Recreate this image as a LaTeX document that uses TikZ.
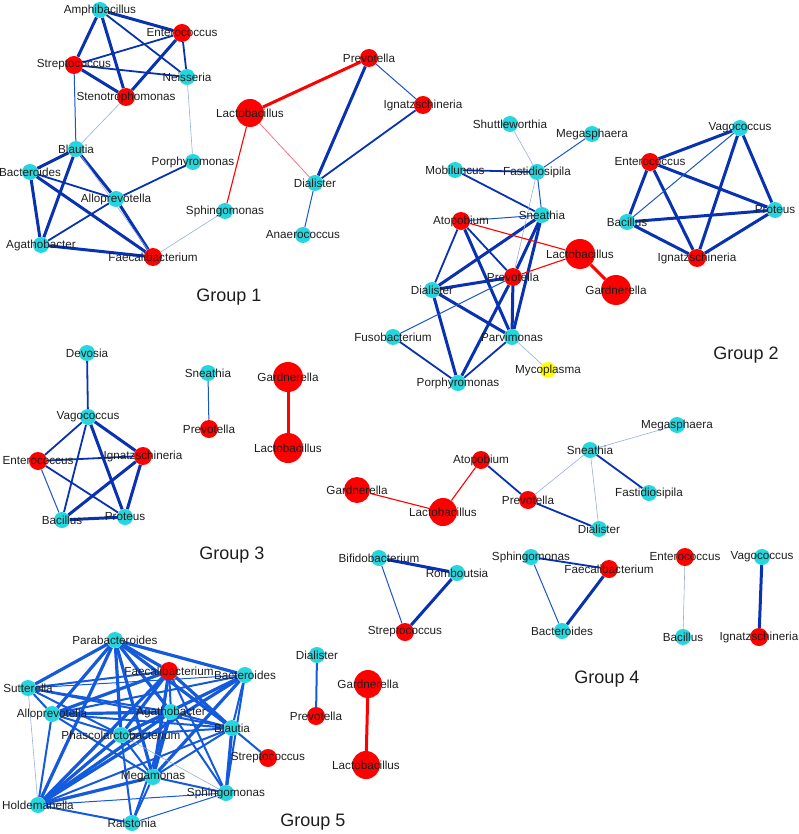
\documentclass[tikz,border=0pt]{standalone}
\usepackage{fontspec}
\setmainfont{Liberation Sans}
\usepackage{tikz}
\usetikzlibrary{arrows}
\definecolor{nodecyan}{RGB}{38,214,222}
\definecolor{nodered}{RGB}{255,0,0}
\definecolor{nodeyel}{RGB}{255,255,0}
\definecolor{edgedark}{RGB}{8,50,178}
\definecolor{edgemid}{RGB}{25,85,200}
\definecolor{edgepale}{RGB}{150,175,220}
\definecolor{edgebright}{RGB}{20,90,220}
\definecolor{edgepink}{RGB}{255,110,140}
\definecolor{txt}{RGB}{30,30,30}
\pgfdeclarelayer{bg}
\pgfsetlayers{bg,main}

\begin{document}
\begin{tikzpicture}[x=1pt, y=-1pt,
    lbl/.style = {text=txt, font=\fontsize{11.7}{14}\selectfont, inner sep=0pt},
    cy/.style = {circle, fill=nodecyan, minimum size=16pt, inner sep=0pt, label={[lbl]center:#1}},
    rd/.style = {circle, fill=nodered, minimum size=18pt, inner sep=0pt, label={[lbl]center:#1}},
    big/.style = {circle, fill=nodered, minimum size=30pt, inner sep=0pt, label={[lbl]center:#1}},
    yl/.style = {circle, fill=nodeyel, minimum size=16pt, inner sep=0pt, label={[lbl]center:#1}},
    grp/.style = {text=txt, font=\fontsize{18}{21}\selectfont},
    ePale/.style = {draw=edgepale, line width=0.6pt},
    eThin/.style = {draw=edgemid, line width=1pt},
    eMid/.style = {draw=edgedark, line width=1.8pt},
    eThick/.style = {draw=edgedark, line width=3pt},
    fThin/.style = {draw=edgebright, line width=1pt},
    fMid/.style = {draw=edgebright, line width=2pt},
    fThick/.style = {draw=edgebright, line width=3.2pt},
    rThin/.style = {draw=edgepink, line width=0.8pt},
    rMid/.style = {draw=nodered, line width=1.5pt},
    rThick/.style = {draw=nodered, line width=3pt}]
  \useasboundingbox (0,0) rectangle (798,834);

  % group 1
  \node[cy=Amphibacillus] (a1amph) at (100,10) {};
  \node[rd=Enterococcus] (a1ente) at (182,33) {};
  \node[rd=Streptococcus] (a1stre) at (74,65) {};
  \node[cy=Neisseria] (a1neis) at (187,77) {};
  \node[rd=Stenotrophomonas] (a1sten) at (126,97) {};
  \node[cy=Blautia] (a1blau) at (76,149) {};
  \node[cy=Porphyromonas] (a1porp) at (193,162) {};
  \node[cy=Bacteroides] (a1bact) at (30,172) {};
  \node[cy=Alloprevotella] (a1allo) at (116,199) {};
  \node[cy=Sphingomonas] (a1sphi) at (225,211) {};
  \node[cy=Agathobacter] (a1agat) at (41,245) {};
  \node[rd=Faecalibacterium] (a1faec) at (153,257) {};
  \node[big=Lactobacillus, minimum size=28pt] (a1lact) at (250,113) {};
  \node[rd=Prevotella] (a1prev) at (369,58) {};
  \node[rd=Ignatzschineria] (a1igna) at (423,105) {};
  \node[cy=Dialister] (a1dial) at (315,183) {};
  \node[cy=Anaerococcus] (a1anae) at (303,235) {};
  \node[grp] (g1) at (229,297) {Group 1};

  % group 2
  \node[cy=Shuttleworthia] (b2shut) at (510,124) {};
  \node[cy=Megasphaera] (b2mega) at (592,134) {};
  \node[cy=Mobiluncus] (b2mobi) at (455,170) {};
  \node[cy=Fastidiosipila] (b2fast) at (537,172) {};
  \node[cy=Sneathia] (b2snea) at (542,215) {};
  \node[rd=Atopobium] (b2atop) at (461,221) {};
  \node[big=Lactobacillus] (b2lact) at (580,254) {};
  \node[big=Gardnerella] (b2gard) at (616,290) {};
  \node[rd=Prevotella] (b2prev) at (513,277) {};
  \node[cy=Dialister] (b2dial) at (432,290) {};
  \node[cy=Fusobacterium] (b2fuso) at (393,337) {};
  \node[cy=Parvimonas] (b2parv) at (512,337) {};
  \node[yl=Mycoplasma] (b2myco) at (548,370) {};
  \node[cy=Porphyromonas] (b2porp) at (458,383) {};
  \node[cy=Vagococcus] (b2vago) at (740,128) {};
  \node[rd=Enterococcus] (b2ente) at (650,162) {};
  \node[cy=Bacillus] (b2baci) at (627,222) {};
  \node[cy=Proteus] (b2prot) at (775,210) {};
  \node[rd=Ignatzschineria] (b2igna) at (697,258) {};
  \node[grp] (g2) at (746,355) {Group 2};

  % group 3
  \node[cy=Devosia] (c3devo) at (87,353) {};
  \node[cy=Vagococcus] (c3vago) at (88,417) {};
  \node[rd=Enterococcus] (c3ente) at (38,461) {};
  \node[rd=Ignatzschineria] (c3igna) at (143,456) {};
  \node[cy=Bacillus] (c3baci) at (62,520) {};
  \node[cy=Proteus] (c3prot) at (125,517) {};
  \node[cy=Sneathia] (c3snea) at (208,373) {};
  \node[rd=Prevotella] (c3prev) at (209,429) {};
  \node[big=Gardnerella] (c3gard) at (288,377) {};
  \node[big=Lactobacillus] (c3lact) at (288,448) {};
  \node[grp] (g3) at (232,555) {Group 3};

  % group 4
  \node[cy=Megasphaera] (d4mega) at (677,425) {};
  \node[cy=Sneathia] (d4snea) at (590,450) {};
  \node[rd=Atopobium] (d4atop) at (481,460) {};
  \node[big=Gardnerella, minimum size=26pt] (d4gard) at (357,490) {};
  \node[cy=Fastidiosipila] (d4fast) at (649,493) {};
  \node[rd=Prevotella] (d4prev) at (528,500) {};
  \node[big=Lactobacillus, minimum size=28pt] (d4lact) at (443,512) {};
  \node[cy=Dialister] (d4dial) at (599,529) {};
  \node[cy=Bifidobacterium] (d4bifi) at (379,558) {};
  \node[cy=Romboutsia] (d4romb) at (457,573) {};
  \node[rd=Streptococcus] (d4stre) at (405,632) {};
  \node[cy=Sphingomonas] (d4sphi) at (531,557) {};
  \node[rd=Faecalibacterium] (d4faec) at (609,569) {};
  \node[cy=Bacteroides] (d4bact) at (562,631) {};
  \node[rd=Enterococcus] (d4ente) at (685,557) {};
  \node[cy=Bacillus] (d4baci) at (683,637) {};
  \node[cy=Vagococcus] (d4vago) at (762,557) {};
  \node[rd=Ignatzschineria] (d4igna) at (759,637) {};
  \node[grp] (g4) at (607,679) {Group 4};

  % group 5
  \node[cy=Parabacteroides] (e5para) at (115,640) {};
  \node[rd=Faecalibacterium] (e5faec) at (169,671) {};
  \node[cy=Bacteroides] (e5bact) at (245,675) {};
  \node[cy=Sutterella] (e5sutt) at (28,688) {};
  \node[cy=Alloprevotella] (e5allo) at (52,714) {};
  \node[cy=Agathobacter] (e5agat) at (171,712) {};
  \node[cy=Blautia] (e5blau) at (232,728) {};
  \node[cy=Phascolarctobacterium] (e5phas) at (121,735) {};
  \node[rd=Streptococcus] (e5stre) at (268,758) {};
  \node[cy=Megamonas] (e5mega) at (153,777) {};
  \node[cy=Sphingomonas] (e5sphi) at (226,793) {};
  \node[cy=Holdemanella] (e5hold) at (38,805) {};
  \node[cy=Ralstonia] (e5rals) at (132,823) {};
  \node[cy=Dialister] (e5dial) at (317,655) {};
  \node[rd=Prevotella] (e5prev) at (316,716) {};
  \node[big=Gardnerella, minimum size=28pt] (e5gard) at (368,684) {};
  \node[big=Lactobacillus, minimum size=28pt] (e5lact) at (366,765) {};
  \node[grp] (g5) at (313,822) {Group 5};

  \begin{pgfonlayer}{bg}
    % blue edges
    \foreach \a/\b in {a1amph/a1ente, a1amph/a1stre, a1amph/a1sten, a1ente/a1sten,
        a1stre/a1sten, a1blau/a1bact, a1blau/a1agat, a1blau/a1allo, a1bact/a1agat,
        a1bact/a1faec, a1allo/a1faec, a1agat/a1faec, a1prev/a1dial,
        b2ente/b2vago, b2ente/b2prot, b2ente/b2baci, b2ente/b2igna, b2vago/b2prot,
        b2vago/b2igna, b2baci/b2prot, b2baci/b2igna, b2prot/b2igna,
        b2atop/b2parv, b2snea/b2dial, b2snea/b2prev, b2snea/b2parv, b2prev/b2dial,
        b2prev/b2parv, b2prev/b2porp, b2dial/b2parv, b2dial/b2porp,
        c3vago/c3igna, c3vago/c3prot, c3igna/c3baci, c3igna/c3prot, c3baci/c3prot,
        d4bifi/d4romb, d4romb/d4stre, d4faec/d4bact, d4vago/d4igna}
      \draw[eThick] (\a) -- (\b);
    \foreach \a/\b in {a1amph/a1neis, a1ente/a1stre, a1ente/a1neis, a1stre/a1neis,
        a1bact/a1allo, a1allo/a1agat, a1allo/a1porp, a1igna/a1dial,
        b2mobi/b2fast, b2mobi/b2snea, b2atop/b2dial, b2atop/b2prev, b2fuso/b2porp,
        b2parv/b2porp, c3devo/c3vago, c3vago/c3ente, c3vago/c3baci, c3ente/c3igna,
        c3ente/c3prot, d4atop/d4prev, d4prev/d4dial, d4snea/d4fast, d4sphi/d4faec}
      \draw[eMid] (\a) -- (\b);
    \foreach \a/\b in {a1stre/a1blau, a1prev/a1igna, a1dial/a1anae, b2mega/b2fast,
        b2fast/b2snea, b2atop/b2snea, b2fuso/b2prev, b2baci/b2vago, c3ente/c3baci,
        c3snea/c3prev, d4bifi/d4stre, d4sphi/d4bact}
      \draw[eThin] (\a) -- (\b);
    \foreach \a/\b in {a1sten/a1blau, a1neis/a1porp, a1blau/a1faec, a1faec/a1sphi,
        b2shut/b2fast, b2fast/b2prev, b2parv/b2myco, d4snea/d4prev, d4snea/d4mega,
        d4snea/d4dial, d4ente/d4baci}
      \draw[ePale] (\a) -- (\b);
    % red edges
    \foreach \a/\b in {a1lact/a1prev, b2lact/b2gard, c3gard/c3lact, e5gard/e5lact}
      \draw[rThick] (\a) -- (\b);
    \foreach \a/\b in {b2atop/b2lact, b2prev/b2lact, a1lact/a1sphi, d4gard/d4lact,
        d4lact/d4atop}
      \draw[rMid, line width=1.1pt] (\a) -- (\b);
    \draw[rThin] (a1lact) -- (a1dial);
    % group 5 edges
    \foreach \a/\b in {e5para/e5allo, e5para/e5hold, e5para/e5mega, e5para/e5phas,
        e5para/e5agat, e5para/e5blau, e5para/e5bact, e5para/e5sutt, e5para/e5faec,
        e5hold/e5faec, e5hold/e5agat, e5hold/e5bact, e5hold/e5phas, e5hold/e5mega,
        e5faec/e5mega, e5faec/e5phas, e5faec/e5blau, e5faec/e5allo, e5bact/e5phas,
        e5bact/e5mega, e5allo/e5agat, e5blau/e5sphi, e5agat/e5mega}
      \draw[fThick] (\a) -- (\b);
    \foreach \a/\b in {e5hold/e5allo, e5hold/e5rals, e5hold/e5blau, e5faec/e5sutt,
        e5faec/e5sphi, e5faec/e5agat, e5bact/e5allo, e5bact/e5sphi, e5bact/e5blau,
        e5sutt/e5allo, e5sutt/e5agat, e5sutt/e5blau, e5sutt/e5phas, e5allo/e5blau,
        e5allo/e5mega, e5allo/e5phas, e5agat/e5rals, e5agat/e5sphi, e5agat/e5phas,
        e5agat/e5blau, e5blau/e5stre, e5blau/e5mega, e5blau/e5phas, e5phas/e5rals,
        e5phas/e5mega, e5mega/e5rals, e5mega/e5sphi, e5dial/e5prev}
      \draw[fMid] (\a) -- (\b);
    \foreach \a/\b in {e5hold/e5sphi, e5bact/e5sutt, e5rals/e5sphi, e5bact/e5agat}
      \draw[fThin] (\a) -- (\b);
    \foreach \a/\b in {e5hold/e5sutt, e5phas/e5sphi}
      \draw[ePale] (\a) -- (\b);
  \end{pgfonlayer}
\end{tikzpicture}
\end{document}
